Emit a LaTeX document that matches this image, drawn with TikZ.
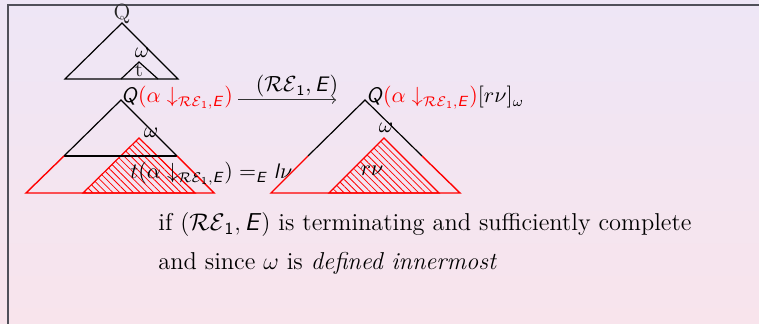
\documentclass[tikz,border=0pt]{standalone}
\usepackage{amsmath}
\usetikzlibrary{patterns,patterns.meta}
\newcommand\sfQ{\textsf{\textit{Q}}}
\newcommand\sfE{\textsf{\textit{E}}}
\newcommand\sfl{\textsf{\textit{l}}}
\newcommand\sfone{\textsf{1}}
\newcommand\redsub{\downarrow_{\mathcal{RE}_{\sfone},\sfE}}
\definecolor{bgtop}{RGB}{238,230,246}
\definecolor{bgbot}{RGB}{248,228,236}
\definecolor{framec}{RGB}{80,80,90}
\begin{document}
\begin{tikzpicture}[x=0.5pt,y=-0.5pt,
  lbl/.style={inner sep=0pt,font=\fontsize{10.5}{12.5}\selectfont},
  ptext/.style={inner sep=0pt,font=\fontsize{12.2}{14.5}\selectfont},
  tline/.style={line width=0.6pt,black},
  rline/.style={line width=0.7pt,red},
  hatch/.style={line width=0.6pt,red,pattern={Lines[angle=-45,distance=2.4pt,line width=0.4pt]},pattern color=red}]
\useasboundingbox (0,0) rectangle (759,324);
\shade[top color=bgtop,bottom color=bgbot] (0,0) rectangle (759,324);
\draw[framec,line width=1pt] (8,324) -- (8,5) -- (759,5);

% top tree
\node[lbl,text=black!85,anchor=base,font=\fontsize{11}{13}\selectfont] (q0) at (122,20) {Q};
\draw[tline] (65,79) -- (122,23) -- (178,79) -- cycle;
\draw[tline] (121,79) -- (139,62) -- (158,79);
\node[lbl,anchor=base] (w0) at (142,58) {$\omega$};
\node[lbl,text=black!85,anchor=base] (t0) at (139,77) {t};

% left tree
\node[lbl,anchor=base west] (q1) at (121,103) {$\sfQ\textcolor{red}{(\alpha\redsub)}$};
\draw[hatch] (139,138) -- (83,193) -- (195,193) -- cycle;
\draw[tline] (64,156) -- (121,100) -- (177,156);
\draw[tline] (64,156) -- (177,156);
\draw[rline] (64,156) -- (26,193) -- (214,193) -- (177,156);
\node[lbl,anchor=base] (w1) at (151,138) {$\omega$};
\node[lbl,anchor=base west] (t1) at (130,179) {$t(\alpha\redsub) =_{\sfE} \sfl\nu$};

% arrow
\coordinate (a1) at (238,100);
\coordinate (a2) at (336,100);
\draw[->,black!80,line width=0.5pt] (a1) -- (a2);
\node[lbl,anchor=base] (al) at (297,92) {$(\mathcal{RE}_{\sfone},\sfE)$};

% right tree
\node[lbl,anchor=base west] (q2) at (366,103) {$\sfQ\textcolor{red}{(\alpha\redsub)}[r\nu]_{\omega}$};
\draw[hatch] (384,138) -- (329,193) -- (439,193) -- cycle;
\draw[tline] (308,156) -- (365,100) -- (422,156);
\draw[rline] (308,156) -- (271,193) -- (460,193) -- (422,156);
\node[lbl,anchor=base] (w2) at (386,133) {$\omega$};
\node[lbl,anchor=base] (rn) at (372,176) {$r\nu$};

% text
\node[ptext,anchor=base west] (l1) at (158,231) {if $(\mathcal{RE}_{\sfone},\sfE)$ is terminating and sufficiently complete};
\node[ptext,anchor=base west] (l2) at (158,270) {and since $\omega$ is \textit{defined innermost}};
\end{tikzpicture}
\end{document}
